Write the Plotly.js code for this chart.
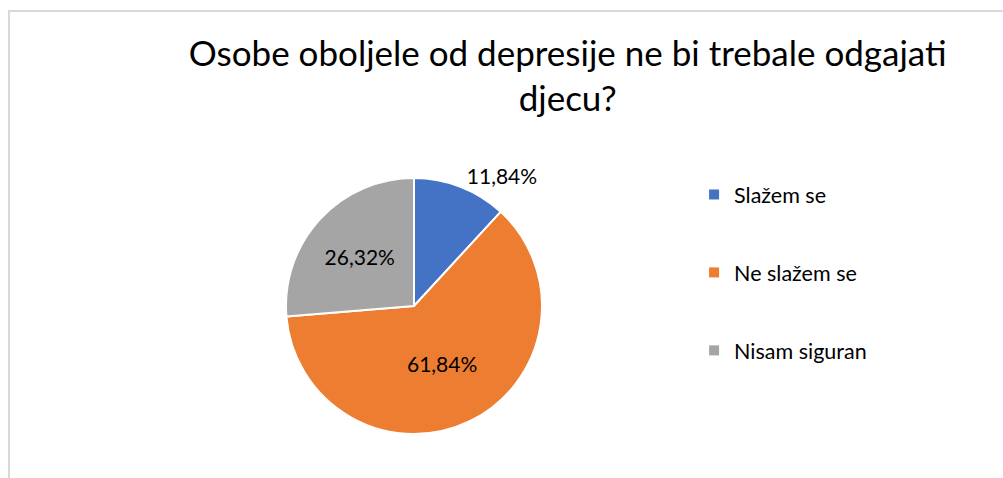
<!DOCTYPE html>
<html>
<head>
<meta charset="utf-8">
<script src="https://cdn.plot.ly/plotly-3.0.1.min.js"></script>
<style>
  html, body { margin: 0; padding: 0; background: #ffffff; }
  #frame { position: absolute; left: 8px; top: 10px; width: 1100px; height: 600px;
           border-left: 2px solid #d9d9d9; border-top: 2px solid #d9d9d9; }
  #chart { position: absolute; left: 0; top: 0; width: 1003px; height: 478px; }
</style>
</head>
<body>
<div id="frame"></div>
<div id="chart"></div>
<script>
const categories = ['Slažem se', 'Ne slažem se', 'Nisam siguran'];
const values = [11.84, 61.84, 26.32];
const colors = ['#4472C4', '#ED7D31', '#A5A5A5'];
const labelPositions = ['outside', 'inside', 'inside'];
const titleText = 'Osobe oboljele od depresije ne bi trebale odgajati<br>djecu?';

const FONT = 'Lato, "Open Sans", sans-serif';

const pie = {
  type: 'pie',
  labels: categories,
  values: values,
  sort: false,
  direction: 'clockwise',
  rotation: 0,
  marker: { colors: colors, line: { color: '#ffffff', width: 2 } },
  texttemplate: '%{percent:.2%}',
  textposition: labelPositions,
  textfont: { family: FONT, size: 21, color: '#000000' },
  insidetextorientation: 'horizontal',
  showlegend: false,
  hoverinfo: 'label+percent',
  domain: { x: [0.2851, 0.5404], y: [0.092, 0.6276] }
};

const legendTraces = categories.map((c, i) => ({
  type: 'scatter',
  x: [null], y: [null],
  mode: 'markers',
  name: c,
  legendgroup: 'g' + i,
  marker: { symbol: 'square', size: 10, color: colors[i] },
  showlegend: true,
  hoverinfo: 'skip'
}));

const layout = {
  width: 1003,
  height: 478,
  margin: { l: 0, r: 0, t: 0, b: 0 },
  paper_bgcolor: 'rgba(0,0,0,0)',
  plot_bgcolor: 'rgba(0,0,0,0)',
  separators: ',.',
  font: { family: FONT, color: '#000000' },
  title: {
    text: titleText,
    font: { family: FONT, size: 35, color: '#000000' },
    x: 0.566, xanchor: 'center',
    y: 0.862, yanchor: 'top',
    xref: 'paper', yref: 'container'
  },
  xaxis: { visible: false, domain: [0.7, 0.71] },
  yaxis: { visible: false, domain: [0.5, 0.51] },
  showlegend: true,
  legend: {
    x: 0.692, xanchor: 'left',
    y: 0.636, yanchor: 'top',
    font: { family: FONT, size: 21.5, color: '#000000' },
    tracegroupgap: 47,
    itemwidth: 30,
    bgcolor: 'rgba(0,0,0,0)'
  }
};

Plotly.newPlot('chart', [pie].concat(legendTraces), layout, { displayModeBar: false, staticPlot: true });
</script>
</body>
</html>
